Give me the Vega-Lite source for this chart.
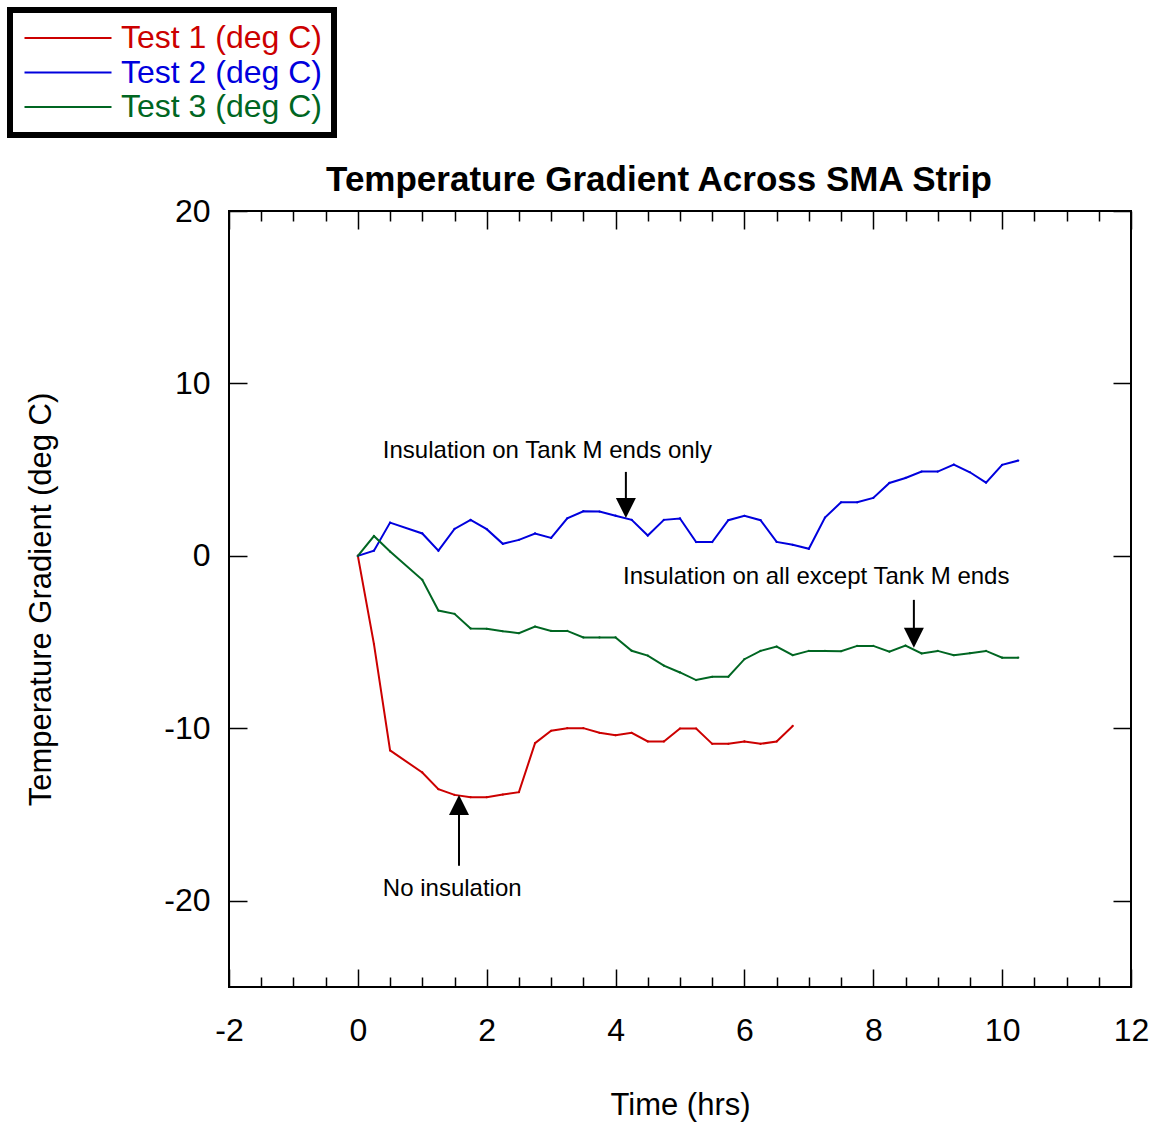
{
  "$schema": "https://vega.github.io/schema/vega-lite/v6.json",
  "width": 902,
  "height": 776,
  "autosize": "none",
  "padding": {"left": 229, "top": 211, "right": 23, "bottom": 135},
  "background": "white",
  "config": {
    "font": "Liberation Sans",
    "view": {"stroke": "black", "strokeWidth": 2},
    "axis": {"grid": false, "domain": false, "tickColor": "black", "tickWidth": 1.5, "labelColor": "black", "titleColor": "black", "labelFont": "Liberation Sans", "titleFont": "Liberation Sans", "titleFontWeight": "normal"}
  },
  "title": {"text": "Temperature Gradient Across SMA Strip", "fontSize": 35, "fontWeight": "bold", "font": "Liberation Sans", "anchor": "middle", "frame": "group", "dx": -21, "offset": -219, "baseline": "alphabetic", "color": "black"},
  "datasets": {
    "series": [
      {"series": "Test 1 (deg C)", "t": 0, "v": 0},
      {"series": "Test 1 (deg C)", "t": 0.25, "v": -5.12},
      {"series": "Test 1 (deg C)", "t": 0.5, "v": -11.28},
      {"series": "Test 1 (deg C)", "t": 1.0, "v": -12.56},
      {"series": "Test 1 (deg C)", "t": 1.25, "v": -13.53},
      {"series": "Test 1 (deg C)", "t": 1.5, "v": -13.86},
      {"series": "Test 1 (deg C)", "t": 1.75, "v": -13.99},
      {"series": "Test 1 (deg C)", "t": 2.0, "v": -13.99},
      {"series": "Test 1 (deg C)", "t": 2.25, "v": -13.84},
      {"series": "Test 1 (deg C)", "t": 2.5, "v": -13.7},
      {"series": "Test 1 (deg C)", "t": 2.75, "v": -10.86},
      {"series": "Test 1 (deg C)", "t": 3.0, "v": -10.14},
      {"series": "Test 1 (deg C)", "t": 3.25, "v": -9.99},
      {"series": "Test 1 (deg C)", "t": 3.5, "v": -9.99},
      {"series": "Test 1 (deg C)", "t": 3.75, "v": -10.26},
      {"series": "Test 1 (deg C)", "t": 4.0, "v": -10.4},
      {"series": "Test 1 (deg C)", "t": 4.25, "v": -10.26},
      {"series": "Test 1 (deg C)", "t": 4.5, "v": -10.76},
      {"series": "Test 1 (deg C)", "t": 4.75, "v": -10.76},
      {"series": "Test 1 (deg C)", "t": 5.0, "v": -10.01},
      {"series": "Test 1 (deg C)", "t": 5.25, "v": -10.01},
      {"series": "Test 1 (deg C)", "t": 5.5, "v": -10.9},
      {"series": "Test 1 (deg C)", "t": 5.75, "v": -10.9},
      {"series": "Test 1 (deg C)", "t": 6.0, "v": -10.76},
      {"series": "Test 1 (deg C)", "t": 6.25, "v": -10.9},
      {"series": "Test 1 (deg C)", "t": 6.5, "v": -10.76},
      {"series": "Test 1 (deg C)", "t": 6.75, "v": -9.86},
      {"series": "Test 2 (deg C)", "t": 0, "v": 0},
      {"series": "Test 2 (deg C)", "t": 0.25, "v": 0.3},
      {"series": "Test 2 (deg C)", "t": 0.5, "v": 1.93},
      {"series": "Test 2 (deg C)", "t": 1.0, "v": 1.3},
      {"series": "Test 2 (deg C)", "t": 1.25, "v": 0.3},
      {"series": "Test 2 (deg C)", "t": 1.5, "v": 1.56},
      {"series": "Test 2 (deg C)", "t": 1.75, "v": 2.09},
      {"series": "Test 2 (deg C)", "t": 2.0, "v": 1.55},
      {"series": "Test 2 (deg C)", "t": 2.25, "v": 0.7},
      {"series": "Test 2 (deg C)", "t": 2.5, "v": 0.93},
      {"series": "Test 2 (deg C)", "t": 2.75, "v": 1.3},
      {"series": "Test 2 (deg C)", "t": 3.0, "v": 1.04},
      {"series": "Test 2 (deg C)", "t": 3.25, "v": 2.18},
      {"series": "Test 2 (deg C)", "t": 3.5, "v": 2.59},
      {"series": "Test 2 (deg C)", "t": 3.75, "v": 2.57},
      {"series": "Test 2 (deg C)", "t": 4.0, "v": 2.33},
      {"series": "Test 2 (deg C)", "t": 4.25, "v": 2.09},
      {"series": "Test 2 (deg C)", "t": 4.5, "v": 1.18},
      {"series": "Test 2 (deg C)", "t": 4.75, "v": 2.09},
      {"series": "Test 2 (deg C)", "t": 5.0, "v": 2.17},
      {"series": "Test 2 (deg C)", "t": 5.25, "v": 0.8},
      {"series": "Test 2 (deg C)", "t": 5.5, "v": 0.8},
      {"series": "Test 2 (deg C)", "t": 5.75, "v": 2.07},
      {"series": "Test 2 (deg C)", "t": 6.0, "v": 2.32},
      {"series": "Test 2 (deg C)", "t": 6.25, "v": 2.07},
      {"series": "Test 2 (deg C)", "t": 6.5, "v": 0.81},
      {"series": "Test 2 (deg C)", "t": 6.75, "v": 0.64},
      {"series": "Test 2 (deg C)", "t": 7.0, "v": 0.41},
      {"series": "Test 2 (deg C)", "t": 7.25, "v": 2.22},
      {"series": "Test 2 (deg C)", "t": 7.5, "v": 3.11},
      {"series": "Test 2 (deg C)", "t": 7.75, "v": 3.11},
      {"series": "Test 2 (deg C)", "t": 8.0, "v": 3.36},
      {"series": "Test 2 (deg C)", "t": 8.25, "v": 4.23},
      {"series": "Test 2 (deg C)", "t": 8.5, "v": 4.52},
      {"series": "Test 2 (deg C)", "t": 8.75, "v": 4.89},
      {"series": "Test 2 (deg C)", "t": 9.0, "v": 4.89},
      {"series": "Test 2 (deg C)", "t": 9.25, "v": 5.29},
      {"series": "Test 2 (deg C)", "t": 9.5, "v": 4.85},
      {"series": "Test 2 (deg C)", "t": 9.75, "v": 4.25},
      {"series": "Test 2 (deg C)", "t": 10.0, "v": 5.28},
      {"series": "Test 2 (deg C)", "t": 10.25, "v": 5.53},
      {"series": "Test 3 (deg C)", "t": 0, "v": 0},
      {"series": "Test 3 (deg C)", "t": 0.25, "v": 1.15},
      {"series": "Test 3 (deg C)", "t": 0.5, "v": 0.25},
      {"series": "Test 3 (deg C)", "t": 1.0, "v": -1.39},
      {"series": "Test 3 (deg C)", "t": 1.25, "v": -3.17},
      {"series": "Test 3 (deg C)", "t": 1.5, "v": -3.36},
      {"series": "Test 3 (deg C)", "t": 1.75, "v": -4.21},
      {"series": "Test 3 (deg C)", "t": 2.0, "v": -4.23},
      {"series": "Test 3 (deg C)", "t": 2.25, "v": -4.37},
      {"series": "Test 3 (deg C)", "t": 2.5, "v": -4.48},
      {"series": "Test 3 (deg C)", "t": 2.75, "v": -4.1},
      {"series": "Test 3 (deg C)", "t": 3.0, "v": -4.35},
      {"series": "Test 3 (deg C)", "t": 3.25, "v": -4.35},
      {"series": "Test 3 (deg C)", "t": 3.5, "v": -4.73},
      {"series": "Test 3 (deg C)", "t": 3.75, "v": -4.73},
      {"series": "Test 3 (deg C)", "t": 4.0, "v": -4.73},
      {"series": "Test 3 (deg C)", "t": 4.25, "v": -5.5},
      {"series": "Test 3 (deg C)", "t": 4.5, "v": -5.78},
      {"series": "Test 3 (deg C)", "t": 4.75, "v": -6.36},
      {"series": "Test 3 (deg C)", "t": 5.0, "v": -6.76},
      {"series": "Test 3 (deg C)", "t": 5.25, "v": -7.2},
      {"series": "Test 3 (deg C)", "t": 5.5, "v": -7.01},
      {"series": "Test 3 (deg C)", "t": 5.75, "v": -7.01},
      {"series": "Test 3 (deg C)", "t": 6.0, "v": -5.99},
      {"series": "Test 3 (deg C)", "t": 6.25, "v": -5.51},
      {"series": "Test 3 (deg C)", "t": 6.5, "v": -5.26},
      {"series": "Test 3 (deg C)", "t": 6.75, "v": -5.76},
      {"series": "Test 3 (deg C)", "t": 7.0, "v": -5.51},
      {"series": "Test 3 (deg C)", "t": 7.25, "v": -5.51},
      {"series": "Test 3 (deg C)", "t": 7.5, "v": -5.53},
      {"series": "Test 3 (deg C)", "t": 7.75, "v": -5.22},
      {"series": "Test 3 (deg C)", "t": 8.0, "v": -5.22},
      {"series": "Test 3 (deg C)", "t": 8.25, "v": -5.55},
      {"series": "Test 3 (deg C)", "t": 8.5, "v": -5.2},
      {"series": "Test 3 (deg C)", "t": 8.75, "v": -5.66},
      {"series": "Test 3 (deg C)", "t": 9.0, "v": -5.51},
      {"series": "Test 3 (deg C)", "t": 9.25, "v": -5.76},
      {"series": "Test 3 (deg C)", "t": 9.5, "v": -5.64},
      {"series": "Test 3 (deg C)", "t": 9.75, "v": -5.51},
      {"series": "Test 3 (deg C)", "t": 10.0, "v": -5.9},
      {"series": "Test 3 (deg C)", "t": 10.25, "v": -5.9}
    ],
    "shafts": [
      {"t": 4.16, "a": 4.87, "b": 3.0},
      {"t": 8.63, "a": -2.55, "b": -4.6},
      {"t": 1.57, "a": -17.97, "b": -14.6}
    ],
    "heads": [
      {"t": 4.16, "v": 2.2, "dir": "down"},
      {"t": 8.63, "v": -5.33, "dir": "down"},
      {"t": 1.57, "v": -13.86, "dir": "up"}
    ],
    "notes": [
      {"t": 0.388, "v": 6.09, "label": "Insulation on Tank M ends only"},
      {"t": 4.115, "v": -1.22, "label": "Insulation on all except Tank M ends"},
      {"t": 0.388, "v": -19.3, "label": "No insulation"}
    ]
  },
  "layer": [
    {
      "data": {"name": "series"},
      "mark": {"type": "line", "strokeWidth": 2, "point": {"size": 5, "filled": true}},
      "encoding": {
        "x": {"field": "t", "type": "quantitative", "scale": {"domain": [-2, 12], "nice": false, "zero": false},
          "axis": {"orient": "bottom", "values": [-2, 0, 2, 4, 6, 8, 10, 12], "labelExpr": "toString(datum.value)", "tickSize": -18, "labelFontSize": 32, "labelPadding": 46, "labelFlush": false, "title": "Time (hrs)", "titleFontSize": 31, "titlePadding": 44}},
        "y": {"field": "v", "type": "quantitative", "scale": {"domain": [-25, 20], "nice": false, "zero": false},
          "axis": {"orient": "left", "values": [-20, -10, 0, 10, 20], "labelExpr": "toString(datum.value)", "tickSize": -18, "labelFontSize": 32, "labelPadding": 37, "labelFlush": false, "title": "Temperature Gradient (deg C)", "titleFontSize": 31, "titlePadding": 106}},
        "color": {"field": "series", "type": "nominal",
          "scale": {"domain": ["Test 1 (deg C)", "Test 2 (deg C)", "Test 3 (deg C)"], "range": ["#cc0000", "#0000dd", "#006622"]},
          "legend": {"orient": "none", "legendX": -219, "legendY": -201, "title": null, "symbolType": "M-10,0H10", "symbolSize": 75.7, "symbolStrokeWidth": 2, "symbolOffset": 30, "labelFontSize": 32, "labelFont": "Liberation Sans", "labelOffset": 37, "labelLimit": 400, "strokeColor": "black", "fillColor": "white", "padding": 12, "rowPadding": 2.5,
            "encode": {"labels": {"update": {"fill": {"scale": "color", "field": "value"}}}, "legend": {"update": {"stroke": {"value": "black"}, "strokeWidth": {"value": 6}}}}}
        }
      }
    },
    {
      "data": {"name": "shafts"},
      "mark": {"type": "rule", "strokeWidth": 2, "color": "black"},
      "encoding": {
        "x": {"field": "t", "type": "quantitative", "axis": {"orient": "top", "values": [-2, 0, 2, 4, 6, 8, 10, 12], "tickSize": -18, "labels": false, "title": null}},
        "y": {"field": "a", "type": "quantitative", "axis": {"orient": "right", "values": [-20, -10, 0, 10, 20], "tickSize": -18, "labels": false, "title": null}},
        "y2": {"field": "b"}
      }
    },
    {
      "data": {"name": "heads"},
      "mark": {"type": "point", "filled": true, "color": "black", "size": 400, "opacity": 1, "strokeWidth": 0},
      "encoding": {
        "x": {"field": "t", "type": "quantitative", "axis": {"orient": "bottom", "values": [-1.5, -1, -0.5, 0.5, 1, 1.5, 2.5, 3, 3.5, 4.5, 5, 5.5, 6.5, 7, 7.5, 8.5, 9, 9.5, 10.5, 11, 11.5], "tickSize": -10, "labels": false, "title": null}},
        "y": {"field": "v", "type": "quantitative", "axis": null},
        "shape": {"field": "dir", "type": "nominal", "scale": {"domain": ["down", "up"], "range": ["M-1,-2L1,-2L0,0Z", "M-1,2L1,2L0,0Z"]}, "legend": null}
      }
    },
    {
      "data": {"name": "notes"},
      "mark": {"type": "text", "align": "left", "baseline": "middle", "fontSize": 24, "color": "black", "font": "Liberation Sans"},
      "encoding": {
        "x": {"field": "t", "type": "quantitative", "axis": {"orient": "top", "values": [-1.5, -1, -0.5, 0.5, 1, 1.5, 2.5, 3, 3.5, 4.5, 5, 5.5, 6.5, 7, 7.5, 8.5, 9, 9.5, 10.5, 11, 11.5], "tickSize": -10, "labels": false, "title": null}},
        "y": {"field": "v", "type": "quantitative", "axis": null},
        "text": {"field": "label"}
      }
    }
  ],
  "resolve": {"axis": {"x": "independent", "y": "independent"}}
}
